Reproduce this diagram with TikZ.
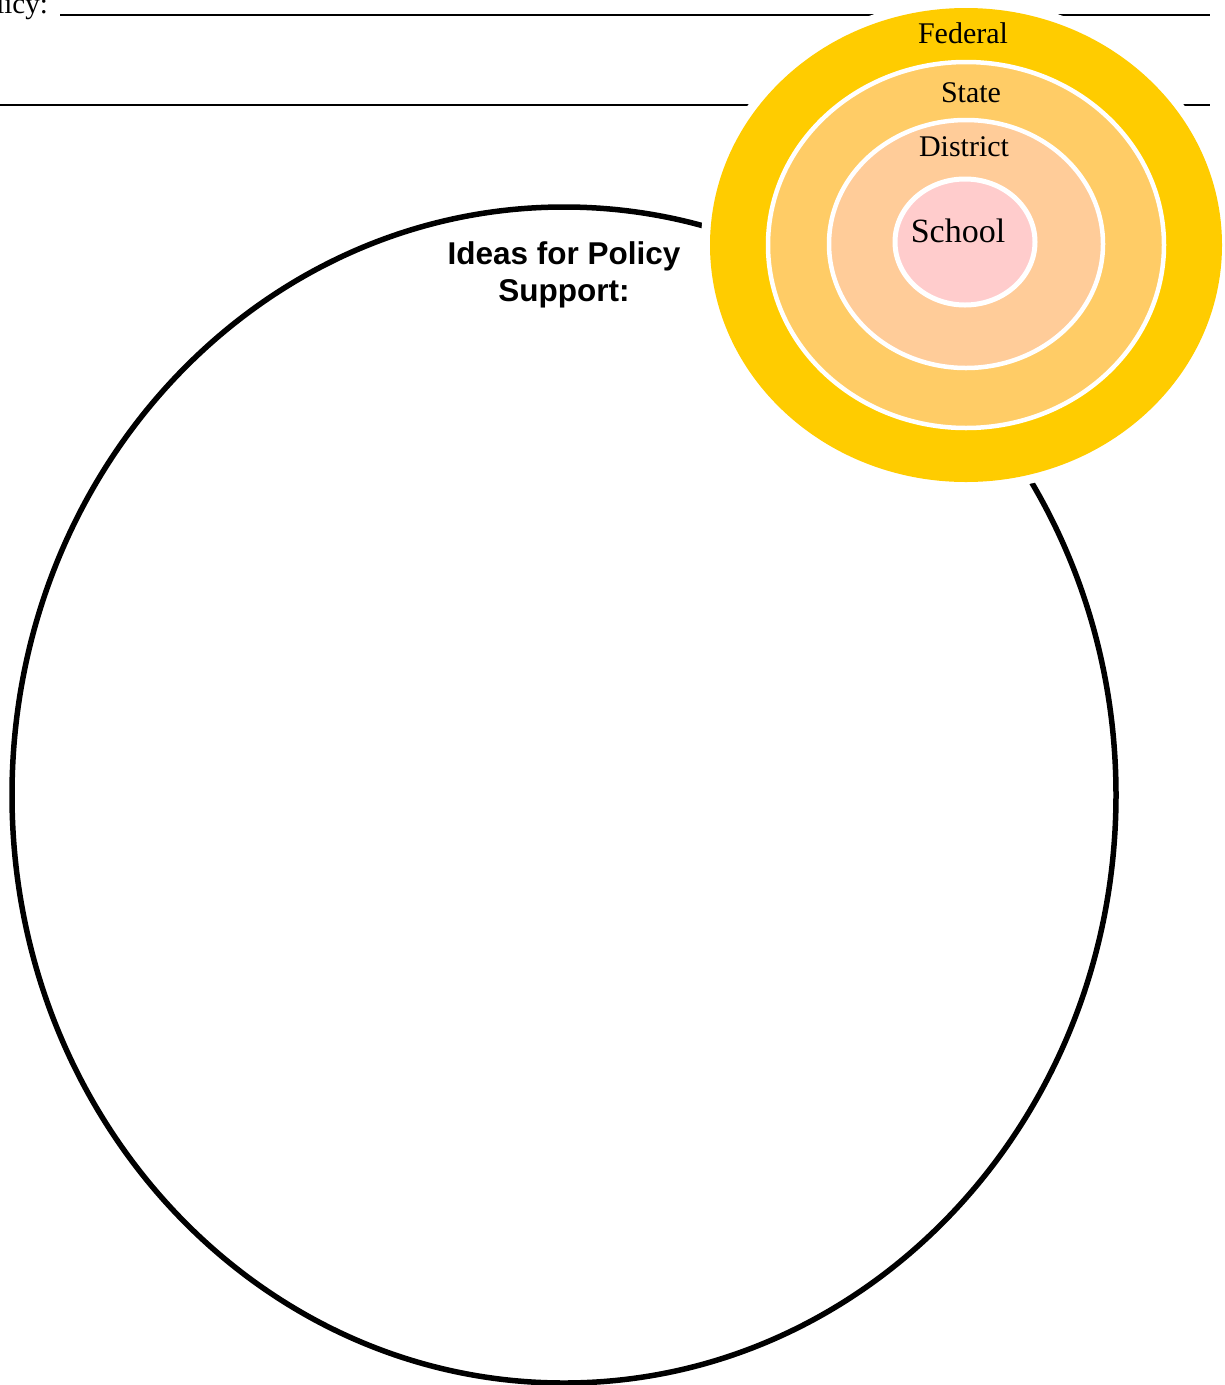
\documentclass[tikz,border=0pt]{standalone}
\usepackage{fontspec}
\setmainfont{Liberation Serif}
\newfontfamily\arialfont{Liberation Sans}
\definecolor{fedcol}{HTML}{FFCC00}
\definecolor{statecol}{HTML}{FFCC66}
\definecolor{distcol}{HTML}{FFCC99}
\definecolor{schoolcol}{HTML}{FFCCCC}
\tikzset{
  blankline/.style={line width=2pt, black},
  ring/.style={draw=white, line width=4.5pt},
  lvl/.style={inner sep=0pt, anchor=base, font=\fontsize{30}{35}\selectfont},
}
\begin{document}
\begin{tikzpicture}[x=1pt,y=-1pt]
\useasboundingbox (0,0) rectangle (1225,1385);
% blank lines
\coordinate (l1a) at (60,15);
\coordinate (l1b) at (1210,15);
\coordinate (l2a) at (0,105);
\coordinate (l2b) at (1210,105);
\draw[blankline] (l1a) -- (l1b);
\draw[blankline] (l2a) -- (l2b);
\node[inner sep=0pt, anchor=base east, font=\fontsize{29}{33}\selectfont] (pol) at (48,13) {licy:};
% big circle
\draw[line width=5.5pt] (564,795) ellipse [x radius=552, y radius=588];
\node[inner sep=0pt, align=center, font=\arialfont\bfseries\fontsize{31.5}{37}\selectfont, anchor=base] (ideas) at (564,301) {Ideas for Policy\\Support:};
% concentric levels
\fill[white] (966,245) ellipse [x radius=265, y radius=246];
\fill[fedcol] (966,245) ellipse [x radius=256, y radius=237];
\filldraw[fill=statecol, ring] (966,245) ellipse [x radius=198, y radius=183];
\filldraw[fill=distcol, ring] (966,244) ellipse [x radius=137, y radius=124];
\filldraw[fill=schoolcol, ring, line width=5pt] (965,242) ellipse [x radius=70, y radius=63];
\node[lvl] (federal) at (963,43) {Federal};
\node[lvl] (state) at (971,102) {State};
\node[lvl] (district) at (964,156) {District};
\node[lvl, font=\fontsize{34}{39}\selectfont] (school) at (958,242) {School};
\end{tikzpicture}
\end{document}
